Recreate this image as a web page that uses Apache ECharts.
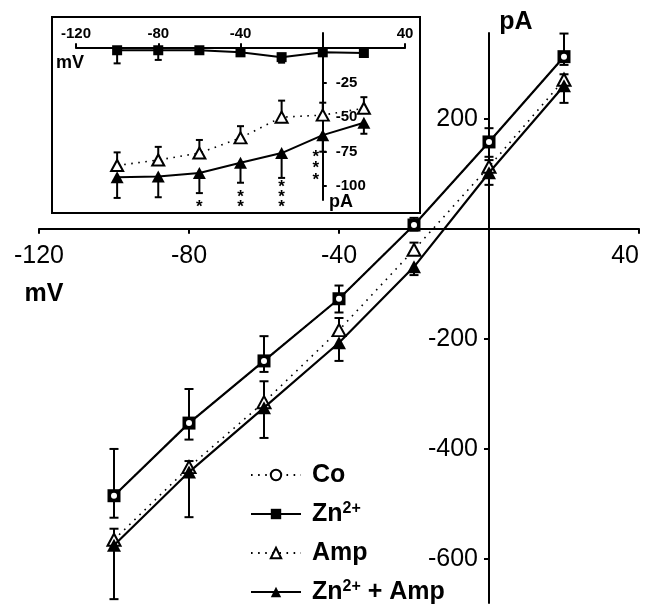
<!DOCTYPE html>
<html><head><meta charset="utf-8">
<script src="https://cdn.jsdelivr.net/npm/echarts@6/dist/echarts.min.js"></script>
<style>html,body{margin:0;padding:0;background:#fff}#chart{width:646px;height:607px}</style>
</head><body><div id="chart"></div>
<script>
// ---- data ----
const seriesNames = ['Co', 'Zn2+', 'Amp', 'Zn2+ + Amp'];
const voltages = [-100, -80, -60, -40, -20, 0, 20];

// main panel (pA)
const coMain = [-485, -353, -240, -127, 7, 158, 313];
const coMainErr = [85, 62, 45, 24, 13, 25, 42];
const znMain = [-485, -353, -240, -127, 7, 158, 313];
const znMainErr = [40, 30, 20, 25, 10, 27, 15];
const ampMain = [-565, -433, -315, -184, -38, 113, 271];
const ampMainErr = [20, 11, 38, 22, 13, 12, 10];
const znAmpMain = [-575, -442, -325, -207, -69, 102, 260];
const znAmpMainErr = [98, 82, 55, 33, 15, 22, 31];

// inset panel (pA)
const znInset = [-1.5, -1.5, -1.5, -3, -6.5, -3, -3.5];
const znInsetErr = [9.5, 7, 2, 2, 4, 2, 2];
const ampInset = [-85, -81, -76, -65, -50, -48.5, -43.5];
const ampInsetErr = [9.5, 9.5, 9.5, 8.5, 12, 9, 8];
const znAmpInset = [-93.5, -93, -90.5, -83, -76, -63, -54];
const znAmpInsetErr = [15, 15, 14.5, 14.5, 18, 12, 8];
const significance = ['', '', '*', '**', '***', '***', ''];

// tick labels
const mainXTicks = [-120, -80, -40, 40];
const mainYTicks = [-600, -400, -200, 200];
const insetXTicks = [-120, -80, -40, 40];
const insetYTicks = [-100, -75, -50, -25];

// ---- layout ----
const FONT = 'Liberation Sans, Arial, sans-serif';
const G0 = {left: 39, width: 600, top: 33, height: 570, xMin: -120, xMax: 40, yMin: -680, yMax: 356};
const G1 = {left: 76, width: 329, top: 33, height: 167, xMin: -120, xMax: 40, yMin: -110, yMax: 11};
// offsets that place each axis line at the other axis' zero
const zeroX = g => g.left + (0 - g.xMin) / (g.xMax - g.xMin) * g.width;
const zeroY = g => g.top + (g.yMax - 0) / (g.yMax - g.yMin) * g.height;

const chart = echarts.init(document.getElementById('chart'), null, {renderer: 'canvas'});
const pairs = vals => voltages.map((v, i) => [v, vals[i]]);

function errSeries(vals, errs, dir, idx, capW, lw) {
  return {
    type: 'custom', xAxisIndex: idx, yAxisIndex: idx, z: 1, silent: true,
    data: voltages.map((v, i) => [v, vals[i], vals[i] + dir * errs[i]]),
    renderItem(params, api) {
      const a = api.coord([api.value(0), api.value(1)]);
      const b = api.coord([api.value(0), api.value(2)]);
      return {type: 'group', children: [
        {type: 'line', shape: {x1: a[0], y1: a[1], x2: b[0], y2: b[1]}, style: {stroke: '#000', lineWidth: lw}},
        {type: 'line', shape: {x1: b[0] - capW / 2, y1: b[1], x2: b[0] + capW / 2, y2: b[1]}, style: {stroke: '#000', lineWidth: lw}}
      ]};
    }
  };
}

function lineSeries(name, vals, idx, opts) {
  return Object.assign({
    type: 'line', name, xAxisIndex: idx, yAxisIndex: idx, data: pairs(vals),
    animation: false, silent: true
  }, opts);
}

const solid = w => ({color: '#000', width: w, type: 'solid'});
const dotted = w => ({color: '#000', width: w, type: [1.6, 5.5]});

const series = [
  // main panel
  lineSeries('Co', coMain, 0, {z: 4, symbol: 'circle', symbolSize: 8, lineStyle: dotted(1.6),
    itemStyle: {color: '#fff', borderColor: '#000', borderWidth: 2}}),
  lineSeries('Zn2+', znMain, 0, {z: 3, symbol: 'rect', symbolSize: 13, lineStyle: solid(2.2),
    itemStyle: {color: '#000', borderColor: '#000', borderWidth: 0}}),
  lineSeries('Amp', ampMain, 0, {z: 3, symbol: 'triangle', symbolSize: [13, 12], lineStyle: dotted(1.6),
    itemStyle: {color: '#fff', borderColor: '#000', borderWidth: 2}}),
  lineSeries('Zn2+ + Amp', znAmpMain, 0, {z: 4, symbol: 'triangle', symbolSize: [14, 13], lineStyle: solid(2.2),
    itemStyle: {color: '#000', borderColor: '#000', borderWidth: 0}}),
  errSeries(coMain, coMainErr, 1, 0, 9, 2),
  errSeries(znMain, znMainErr, -1, 0, 9, 2),
  errSeries(ampMain, ampMainErr, 1, 0, 9, 2),
  errSeries(znAmpMain, znAmpMainErr, -1, 0, 9, 2),
  // inset panel
  lineSeries('Zn2+', znInset, 1, {z: 3, symbol: 'rect', symbolSize: 10, lineStyle: solid(2),
    itemStyle: {color: '#000'}}),
  lineSeries('Amp', ampInset, 1, {z: 3, symbol: 'triangle', symbolSize: [12, 11], lineStyle: dotted(1.6),
    itemStyle: {color: '#fff', borderColor: '#000', borderWidth: 2}}),
  lineSeries('Zn2+ + Amp', znAmpInset, 1, {z: 3, symbol: 'triangle', symbolSize: [13, 12], lineStyle: solid(2),
    itemStyle: {color: '#000'}}),
  errSeries(znInset, znInsetErr, -1, 1, 7, 2),
  errSeries(ampInset, ampInsetErr, 1, 1, 7, 2),
  errSeries(znAmpInset, znAmpInsetErr, -1, 1, 7, 2),
  // significance stars (inset)
  {
    type: 'custom', xAxisIndex: 1, yAxisIndex: 1, z: 5, silent: true,
    data: voltages.map((v, i) => [v, znAmpInset[i]]),
    renderItem(params, api) {
      const stars = significance[params.dataIndex];
      if (!stars) return null;
      const x = api.value(0);
      const children = [];
      const st = {text: '*', fontSize: 17, fontWeight: 'bold', fontFamily: FONT, fill: '#000', align: 'center', verticalAlign: 'middle'};
      if (x === 0) {
        const p = api.coord([x, api.value(1)]);
        for (let k = 0; k < stars.length; k++) {
          children.push({type: 'text', x: p[0] - 7, y: p[1] + 22 + k * 11.5, style: st});
        }
      } else {
        const base = api.coord([x, -112]);
        for (let k = 0; k < stars.length; k++) {
          children.push({type: 'text', x: base[0], y: base[1] + 5 - k * 10, style: st});
        }
      }
      return {type: 'group', children};
    }
  }
];

const axisLineStyle = {color: '#000', width: 2};
const option = {
  backgroundColor: '#fff',
  animation: false,
  grid: [
    {left: G0.left, width: G0.width, top: G0.top, height: G0.height, outerBoundsMode: 'none', containLabel: false},
    {left: G1.left, width: G1.width, top: G1.top, height: G1.height, outerBoundsMode: 'none', containLabel: false}
  ],
  xAxis: [
    {type: 'value', gridIndex: 0, min: G0.xMin, max: G0.xMax, position: 'bottom',
      offset: zeroY(G0) - (G0.top + G0.height),
      axisLine: {onZero: false, lineStyle: axisLineStyle},
      axisTick: {show: true, length: 5, inside: false, customValues: [-120, -80, -40, 0, 40], lineStyle: axisLineStyle},
      axisLabel: {customValues: mainXTicks, margin: 15, fontSize: 25, fontFamily: FONT, color: '#000', alignMaxLabel: 'right'},
      splitLine: {show: false}},
    {type: 'value', gridIndex: 1, min: G1.xMin, max: G1.xMax, position: 'top',
      offset: G1.top - zeroY(G1),
      axisLine: {onZero: false, lineStyle: axisLineStyle},
      axisTick: {show: true, length: 5, inside: false, customValues: [-120, -80, -40, 0, 40], lineStyle: axisLineStyle},
      axisLabel: {customValues: insetXTicks, margin: 7, fontSize: 15, fontWeight: 'bold', fontFamily: FONT, color: '#000'},
      splitLine: {show: false}}
  ],
  yAxis: [
    {type: 'value', gridIndex: 0, min: G0.yMin, max: G0.yMax, position: 'left',
      offset: G0.left - zeroX(G0),
      axisLine: {onZero: false, lineStyle: axisLineStyle},
      axisTick: {show: true, length: 5, inside: false, customValues: mainYTicks, lineStyle: axisLineStyle},
      axisLabel: {customValues: mainYTicks, margin: 11, fontSize: 25, fontFamily: FONT, color: '#000'},
      splitLine: {show: false}},
    {type: 'value', gridIndex: 1, min: G1.yMin, max: G1.yMax, position: 'right',
      offset: zeroX(G1) - (G1.left + G1.width),
      axisLine: {onZero: false, lineStyle: axisLineStyle},
      axisTick: {show: true, length: 4, inside: false, customValues: insetYTicks, lineStyle: axisLineStyle},
      axisLabel: {customValues: insetYTicks, margin: 13, fontSize: 15, fontWeight: 'bold', fontFamily: FONT, color: '#000'},
      splitLine: {show: false}}
  ],
  legend: {
    data: seriesNames, orient: 'vertical', left: 250, top: 462, padding: 0,
    itemWidth: 50, itemHeight: 13, itemGap: 13, selectedMode: false,
    formatter: n => n.replace('2+', '{s|2+}'),
    textStyle: {fontFamily: FONT, fontSize: 25, fontWeight: 'bold', color: '#000', lineHeight: 26, padding: [0, 0, 0, 6],
      rich: {s: {fontFamily: FONT, fontSize: 16, fontWeight: 'bold', color: '#000', verticalAlign: 'top', lineHeight: 14}}}
  },
  graphic: [
    {type: 'rect', shape: {x: 52, y: 17, width: 368, height: 196}, style: {fill: 'none', stroke: '#000', lineWidth: 2}, z: 0},
    {type: 'text', x: 516, y: 22, style: {text: 'pA', fontSize: 25, fontWeight: 'bold', fontFamily: FONT, fill: '#000', align: 'center', verticalAlign: 'middle'}},
    {type: 'text', x: 44, y: 294, style: {text: 'mV', fontSize: 25, fontWeight: 'bold', fontFamily: FONT, fill: '#000', align: 'center', verticalAlign: 'middle'}},
    {type: 'text', x: 70, y: 63, style: {text: 'mV', fontSize: 18, fontWeight: 'bold', fontFamily: FONT, fill: '#000', align: 'center', verticalAlign: 'middle'}},
    {type: 'text', x: 341, y: 202, style: {text: 'pA', fontSize: 18, fontWeight: 'bold', fontFamily: FONT, fill: '#000', align: 'center', verticalAlign: 'middle'}}
  ],
  series
};
chart.setOption(option);
</script></body></html>
